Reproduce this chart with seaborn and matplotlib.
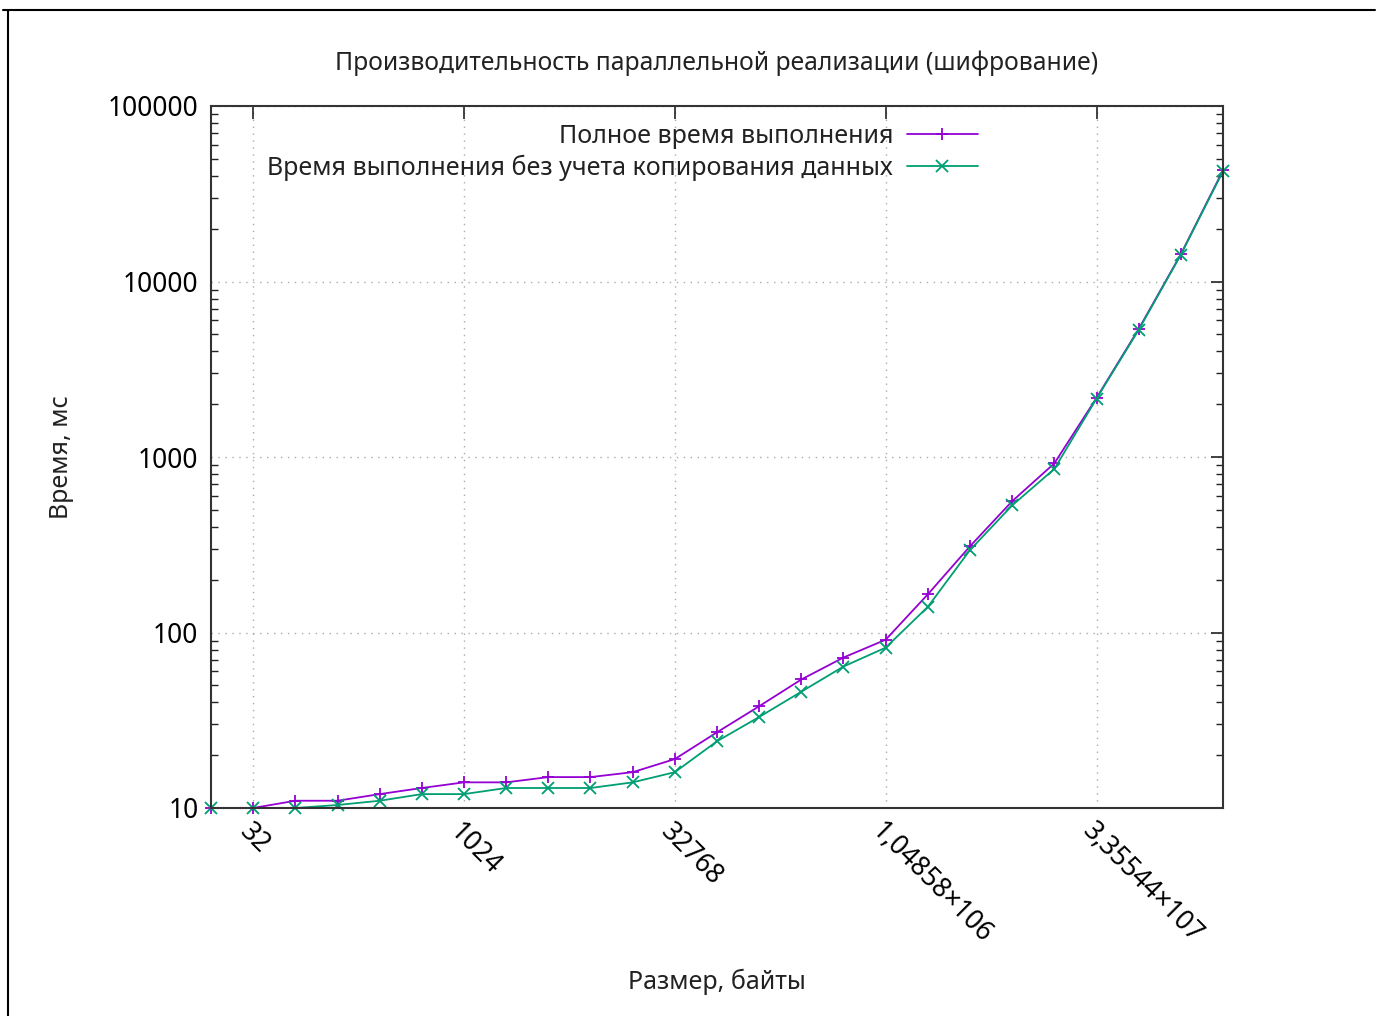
import matplotlib
matplotlib.use("Agg")
import matplotlib.pyplot as plt
import matplotlib.ticker as mticker
from matplotlib.lines import Line2D
import seaborn as sns
import pandas as pd

# ---- data ----
sizes = [16, 32, 64, 128, 256, 512, 1024, 2048, 4096, 8192, 16384, 32768,
         65536, 131072, 262144, 524288, 1048576, 2097152, 4194304, 8388608,
         16777216, 33554432, 67108864, 134217728, 268435456]
full_time = [10, 10, 11, 11, 12, 13, 14, 14, 15, 15, 16, 19, 27, 38, 54, 72,
             91, 165, 310, 560, 920, 2170, 5360, 14300, 43000]
compute_time = [10, 10, 10, 10.4, 11, 12, 12, 13, 13, 13, 14, 16, 24, 33, 46,
                 64, 82, 140, 295, 530, 855, 2150, 5300, 14200, 42500]
series_names = ["Полное время выполнения",
                "Время выполнения без учета копирования данных"]
xtick_values = [32, 1024, 32768, 1048576, 33554432]
xtick_labels = ["32", "1024", "32768", "1,04858×106", "3,35544×107"]
ytick_values = [10, 100, 1000, 10000, 100000]
ytick_labels = ["10", "100", "1000", "10000", "100000"]

df = pd.DataFrame({
    "size": sizes + sizes,
    "time": full_time + compute_time,
    "series": [series_names[0]] * len(sizes) + [series_names[1]] * len(sizes),
})

sns.set_theme(style="white")
plt.rcParams["font.family"] = ["Noto Sans", "DejaVu Sans"]

fig = plt.figure(figsize=(13.8, 10.16), dpi=100)
ax = fig.add_axes([211 / 1380, 1 - 808 / 1016, (1223 - 211) / 1380, (808 - 106) / 1016])

sns.lineplot(data=df, x="size", y="time", hue="series", style="series",
             palette=["#9400d3", "#009e73"], markers=["+", "x"], dashes=False,
             linewidth=1.3, markersize=9, ax=ax)
for ln in ax.lines:
    ln.set_markeredgecolor(ln.get_color())
    ln.set_markeredgewidth(1.3)
    ln.set_clip_on(False)

ax.set_xscale("log", base=2)
ax.set_yscale("log")
ax.set_xlim(16, 268435456)
ax.set_ylim(10, 100000)

ax.set_xticks(xtick_values)
ax.set_xticklabels(xtick_labels, rotation=-45, ha="left", va="top",
                   rotation_mode="anchor", fontsize=19)
ax.xaxis.set_minor_locator(mticker.NullLocator())
ax.set_yticks(ytick_values)
ax.set_yticklabels(ytick_labels, fontsize=19)
ax.yaxis.set_minor_locator(mticker.LogLocator(base=10, subs=range(2, 10)))
ax.yaxis.set_minor_formatter(mticker.NullFormatter())

ax.tick_params(axis="both", which="major", direction="in", length=9, width=1.2,
               top=True, right=True, colors="#222222", labelcolor="black")
ax.tick_params(axis="y", which="minor", direction="in", length=5, width=1.0,
               left=True, right=True, colors="#222222")
ax.tick_params(axis="x", which="major", pad=7)
ax.tick_params(axis="y", which="major", pad=9)

ax.grid(True, which="major", linestyle=(0, (1, 4)), color="#aaaaaa", linewidth=1.0)
for sp in ax.spines.values():
    sp.set_color("#333333")
    sp.set_linewidth(1.5)

ax.set_title("Производительность параллельной реализации (шифрование)",
             fontsize=17.8, pad=26, color="#222222")
ax.set_xlabel("Размер, байты", fontsize=18, labelpad=14, color="#222222")
ax.set_ylabel("Время, мс", fontsize=18, labelpad=24, color="#222222")

leg = ax.legend(loc="upper right", bbox_to_anchor=(0.758, 0.975), frameon=False,
                markerfirst=False, fontsize=18, handlelength=2.85,
                handletextpad=0.55, labelspacing=0.25, borderpad=0, borderaxespad=0)
for t in leg.get_texts():
    t.set_color("#222222")
for h in leg.legend_handles:
    h.set_markeredgecolor(h.get_color())
    h.set_markeredgewidth(1.3)

# outer frame lines of the original image
fig.add_artist(Line2D([3 / 1380, 1375 / 1380], [1 - 10 / 1016, 1 - 10 / 1016],
                      color="black", linewidth=1.5, transform=fig.transFigure))
fig.add_artist(Line2D([8 / 1380, 8 / 1380], [0, 1 - 10 / 1016],
                      color="black", linewidth=1.5, transform=fig.transFigure))

fig.savefig("out.png", dpi=100, facecolor="white")
